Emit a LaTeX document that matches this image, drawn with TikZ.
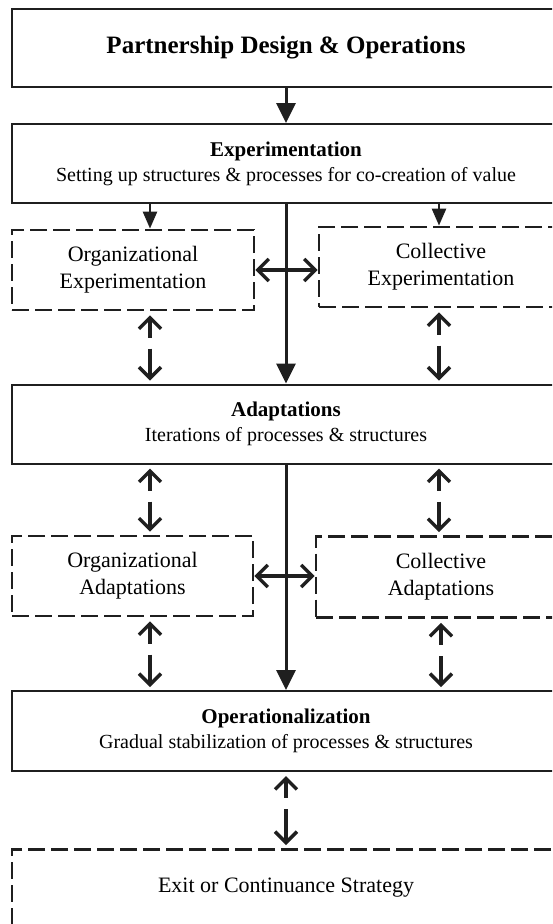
\documentclass[tikz,border=0pt]{standalone}
\usepackage{fontspec}
\setmainfont{Liberation Serif}
\usetikzlibrary{arrows.meta}
\begin{document}
\begin{tikzpicture}[x=1pt,y=-1pt,
  ink/.style={draw=black!88},
  solidbox/.style={ink, line width=2pt, minimum width=548pt, align=center, inner sep=0pt},
  dashbox/.style={ink, line width=2.8pt, dash pattern=on 17pt off 6pt, align=center, inner sep=0pt},
  stagefont/.style={font=\fontsize{20}{25}\selectfont},
  sidefont/.style={font=\fontsize{22}{27}\selectfont},
  feed/.style={ink, line width=2.6pt, -{Triangle[width=14pt,length=17pt]}},
  mainflow/.style={ink, line width=3pt, -{Triangle[width=19pt,length=20pt]}},
  twoway/.style={ink, line width=3.4pt, {Straight Barb[length=11pt,width=22pt]}-{Straight Barb[length=11pt,width=22pt]}},
  splitway/.style={twoway, dash pattern=on 18pt off 11pt on 300pt, shorten <=4pt, shorten >=3pt}
]
\useasboundingbox (0,0) rectangle (552,924);
\clip (0,0) rectangle (552,924);

% columns of the side arrows
\coordinate (lc) at (150,0);
\coordinate (rc) at (439,0);
\coordinate (lc2) at (150,0);
\coordinate (rc2) at (441,0);

% main stages
\node[solidbox, minimum height=78pt, font=\fontsize{25}{30}\selectfont\bfseries] (top) at (286,48)
  {Partnership Design \& Operations};
\node[solidbox, minimum height=79pt, stagefont] (exp) at (286,163.5)
  {\textbf{\fontsize{21}{25}\selectfont Experimentation}\\Setting up structures \& processes for co-creation of value};
\node[solidbox, minimum height=79pt, stagefont] (adapt) at (286,424)
  {\textbf{\fontsize{21}{25}\selectfont Adaptations}\\Iterations of processes \& structures};
\node[solidbox, minimum height=80pt, stagefont] (oper) at (286,731)
  {\textbf{\fontsize{21}{25}\selectfont Operationalization}\\Gradual stabilization of processes \& structures};
\node[dashbox, minimum width=548pt, minimum height=110pt, anchor=north] (exit) at (286,848) {};
\node[sidefont] (exitlabel) at ([yshift=-40pt]exit.north) {Exit or Continuance Strategy};

% side boxes
\node[dashbox, sidefont, minimum width=242pt, minimum height=80pt] (orgexp) at (133,270)
  {Organizational\\Experimentation};
\node[dashbox, sidefont, minimum width=244pt, minimum height=80pt] (colexp) at (441,267)
  {Collective\\Experimentation};
\node[dashbox, sidefont, minimum width=241pt, minimum height=80pt] (orgad) at (132.5,576)
  {Organizational\\Adaptations};
\node[dashbox, sidefont, minimum width=250pt, minimum height=81pt] (colad) at (441,577)
  {Collective\\Adaptations};

% connectors
\draw[mainflow] (top.south) -- (exp.north);
\draw[feed] (exp.south -| lc) -- (orgexp.north -| lc);
\draw[feed] (exp.south -| rc) -- (colexp.north -| rc);
\draw[twoway] (orgexp.east) -- (colexp.west |- orgexp.east);
\draw[mainflow] (exp.south) -- (adapt.north);
\draw[splitway] (orgexp.south -| lc) -- (adapt.north -| lc);
\draw[splitway] (colexp.south -| rc) -- (adapt.north -| rc);

\draw[splitway] (adapt.south -| lc) -- (orgad.north -| lc);
\draw[splitway] (adapt.south -| rc) -- (colad.north -| rc);
\draw[twoway] (orgad.east) -- (colad.west |- orgad.east);
\draw[mainflow] (adapt.south) -- (oper.north);
\draw[splitway] (orgad.south -| lc2) -- (oper.north -| lc2);
\draw[splitway] (colad.south -| rc2) -- (oper.north -| rc2);

\draw[splitway] (oper.south) -- (exit.north);
\end{tikzpicture}
\end{document}
